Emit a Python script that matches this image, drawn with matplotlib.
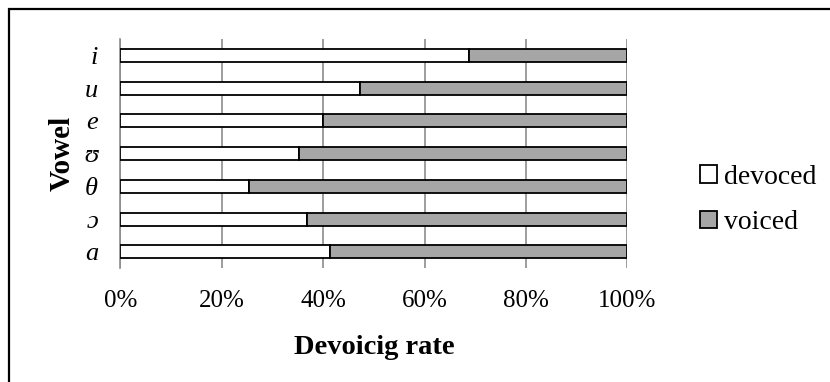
import numpy as np
import matplotlib.pyplot as plt
from matplotlib.patches import Rectangle

vowels = ['a', 'ɔ', 'θ', 'ʊ', 'e', 'u', 'i']
devoiced = [41.3, 36.8, 25.3, 35.2, 40.0, 47.2, 68.7]
voiced = [100 - d for d in devoiced]
xticks = [0, 20, 40, 60, 80, 100]

plt.rcParams['font.family'] = ['Liberation Serif', 'DejaVu Serif']
plt.rcParams['font.size'] = 18

fig = plt.figure(figsize=(8.3, 3.82), dpi=100)
ax = fig.add_axes([0.145, 0.298, 0.611, 0.600])

y = np.arange(len(vowels))
ax.barh(y, devoiced, height=0.4, color='white', edgecolor='black',
        linewidth=1.3, label='devoced', zorder=3)
ax.barh(y, voiced, left=devoiced, height=0.4, color='#a6a6a6',
        edgecolor='black', linewidth=1.3, label='voiced', zorder=3)

ax.set_xlim(0, 100)
ax.set_ylim(-0.5, 6.5)
ax.set_xticks(xticks)
ax.set_xticklabels(['{}%'.format(t) for t in xticks])
ax.set_yticks(y)
ax.set_yticklabels(vowels, style='italic', fontsize=19)
ax.tick_params(axis='y', length=0, pad=16)
ax.tick_params(axis='x', length=0, pad=16)
ax.xaxis.grid(True, color='#8c8c8c', linewidth=1.2, zorder=0)

for s in ['top', 'right', 'bottom']:
    ax.spines[s].set_visible(False)
ax.spines['left'].set_color('#8c8c8c')
ax.spines['left'].set_linewidth(1.2)

ax.set_xlabel('Devoicig rate', fontweight='bold', fontsize=20.5, labelpad=16)
ax.set_ylabel('Vowel', fontweight='bold', fontsize=21, labelpad=6)

ax.legend(loc='center left', bbox_to_anchor=(700 / 830, 1 - 200 / 382),
          bbox_transform=fig.transFigure, frameon=False, fontsize=20,
          handlelength=0.6, handleheight=0.6, handletextpad=0.25,
          labelspacing=0.75, borderaxespad=0, borderpad=0)

# outer frame around the chart
fig.patches.append(Rectangle((9 / 830, -0.1), 1.1, 1.1 - 9 / 382,
                             transform=fig.transFigure, fill=False,
                             edgecolor='black', linewidth=1.6))

fig.savefig('out.png', dpi=100)
